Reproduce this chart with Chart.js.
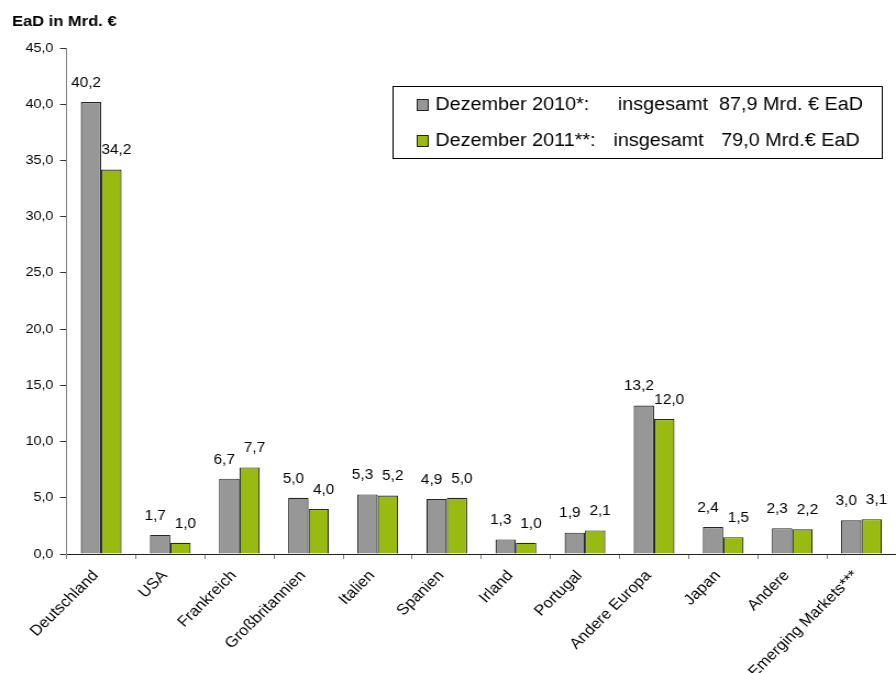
<!DOCTYPE html>
<html lang="de">
<head>
<meta charset="utf-8">
<title>EaD nach Ländern</title>
<script src="https://cdn.jsdelivr.net/npm/chart.js@4.4.1/dist/chart.umd.min.js"></script>
<style>
    html, body { margin: 0; padding: 0; background: #fff; }
    #eadChart { display: block; }
</style>
</head>
<body>
<!-- canvas is drawn a bit narrower and widened by CSS, like the Excel export -->
<canvas id="eadChart" width="815" height="673" style="width:896px;height:673px"></canvas>
<script>
// Daten
const categories = ['Deutschland', 'USA', 'Frankreich', 'Großbritannien', 'Italien', 'Spanien',
    'Irland', 'Portugal', 'Andere Europa', 'Japan', 'Andere', 'Emerging Markets***'];
const dec2010 = [40.2, 1.7, 6.7, 5.0, 5.3, 4.9, 1.3, 1.9, 13.2, 2.4, 2.3, 3.0];
const dec2011 = [34.2, 1.0, 7.7, 4.0, 5.2, 5.0, 1.0, 2.1, 12.0, 1.5, 2.2, 3.1];
const seriesLabels = ['Dezember 2010*:', 'Dezember 2011**:'];
const seriesTotals = ['87,9 Mrd. € EaD', '79,0 Mrd.€ EaD'];
const axisTitle = 'EaD in Mrd. €';

const FONT = "Arial, 'Liberation Sans', sans-serif";
const GRAY = '#979797';
const GREEN = '#99bb11';

function fmt(v) {
    return v.toFixed(1).replace('.', ',');
}

// Werte über den Balken, leicht nach außen gerückt damit sie sich nicht überlappen
const valueLabels = {
    id: 'valueLabels',
    afterDatasetsDraw(chart) {
        const ctx = chart.ctx;
        const shift = [-4.5, 4.5];
        ctx.save();
        ctx.font = '14px ' + FONT;
        ctx.fillStyle = '#000';
        ctx.textAlign = 'center';
        ctx.textBaseline = 'middle';
        chart.data.datasets.forEach((ds, i) => {
            chart.getDatasetMeta(i).data.forEach((bar, j) => {
                ctx.fillText(fmt(ds.data[j]), bar.x + shift[i], bar.y - 19);
            });
        });
        ctx.restore();
    }
};

// Achsentitel und Legende mit Summen
const extras = {
    id: 'extras',
    afterDraw(chart) {
        const ctx = chart.ctx;
        ctx.save();
        ctx.fillStyle = '#000';
        ctx.font = 'bold 15px ' + FONT;
        ctx.textBaseline = 'middle';
        ctx.fillText(axisTitle, 11, 22);

        // Rahmen
        ctx.strokeStyle = '#000';
        ctx.lineWidth = 1;
        ctx.strokeRect(357.5, 86.5, 445, 72);

        const rows = [105, 141];
        const colText = [396, 396];
        const colSum = [562, 558];
        const colVal = [654, 656];
        ctx.font = '18px ' + FONT;
        chart.data.datasets.forEach((ds, i) => {
            const y = rows[i];
            ctx.fillStyle = ds.backgroundColor;
            ctx.fillRect(379.5, y - 5.5, 10, 11);
            ctx.strokeStyle = '#222';
            ctx.strokeRect(379.5, y - 5.5, 10, 11);
            ctx.fillStyle = '#000';
            ctx.fillText(ds.label, colText[i], y);
            ctx.fillText('insgesamt', colSum[i], y);
            ctx.fillText(seriesTotals[i], colVal[i], y);
        });
        ctx.restore();
    }
};

new Chart(document.getElementById('eadChart'), {
    type: 'bar',
    data: {
        labels: categories,
        datasets: [
            {
                label: seriesLabels[0],
                data: dec2010,
                backgroundColor: GRAY,
                borderColor: '#262626',
                borderWidth: 1.2
            },
            {
                label: seriesLabels[1],
                data: dec2011,
                backgroundColor: GREEN,
                borderColor: '#262626',
                borderWidth: 1.2
            }
        ]
    },
    options: {
        responsive: false,
        animation: false,
        devicePixelRatio: 1,
        layout: { padding: { top: 48, left: 0, right: 0, bottom: 0 } },
        datasets: {
            bar: { categoryPercentage: 0.59, barPercentage: 1.0 }
        },
        plugins: {
            legend: { display: false },
            tooltip: { enabled: false }
        },
        scales: {
            x: {
                offset: true,
                grid: {
                    offset: true,
                    drawOnChartArea: false,
                    drawTicks: true,
                    tickLength: 5,
                    color: '#808080'
                },
                border: { color: '#222', width: 1 },
                ticks: {
                    color: '#000',
                    font: { family: FONT, size: 15 },
                    minRotation: 47,
                    maxRotation: 47,
                    padding: 8,
                    labelOffset: -5,
                    autoSkip: false
                },
                afterFit(scale) {
                    scale.height = 119;
                    scale.paddingLeft = 0;
                    scale.paddingRight = 0;
                }
            },
            y: {
                min: 0,
                max: 45,
                grid: {
                    drawOnChartArea: false,
                    drawTicks: true,
                    tickLength: 6,
                    color: '#333'
                },
                border: { color: '#808080', width: 1 },
                ticks: {
                    stepSize: 5,
                    color: '#000',
                    font: { family: FONT, size: 13 },
                    padding: 6,
                    callback: v => fmt(v)
                },
                afterFit(scale) {
                    scale.width = 60.6;
                }
            }
        }
    },
    plugins: [valueLabels, extras]
});
</script>
</body>
</html>
